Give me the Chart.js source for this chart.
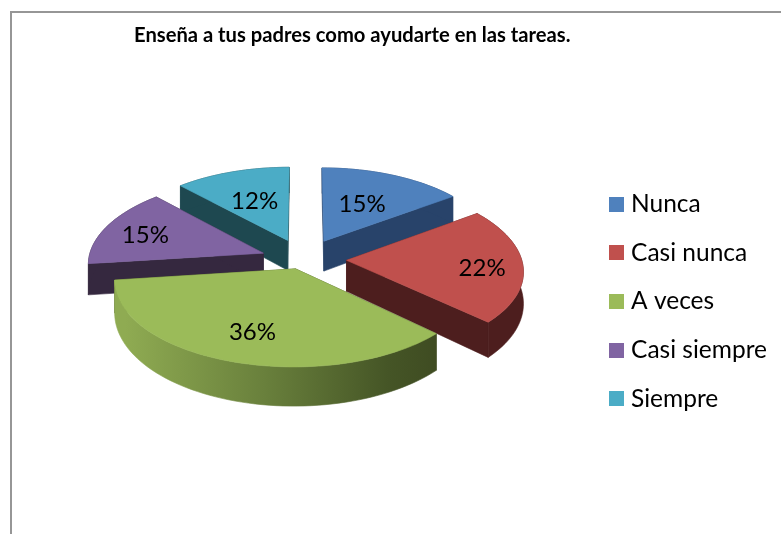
<!DOCTYPE html>
<html><head><meta charset="utf-8">
<style>
html,body{margin:0;padding:0;background:#fff;overflow:hidden;width:781px;height:534px}
#frame{position:absolute;left:10px;top:11px;width:800px;height:600px;border-left:2px solid #969696;border-top:2px solid #969696;box-sizing:border-box}
canvas{display:block}
</style>
<script src="https://cdn.jsdelivr.net/npm/chart.js@4/dist/chart.umd.min.js"></script>
</head><body>
<div id="frame"><canvas id="c" width="765" height="577"></canvas></div>
<script>
const categories = ['Nunca','Casi nunca','A veces','Casi siempre','Siempre'];
const percentages = [15,22,36,15,12];
const chartTitle = 'Enseña a tus padres como ayudarte en las tareas.';
const topColors = ['#4f81bd','#c0504d','#9bbb59','#8064a2','#4bacc6'];
const wallColors = ['#28436a','#4d1e1e','#3f4c22','#35283f','#1e4850'];
const labelFont = 'Lato, Carlito, sans-serif';

const view = {cx:293, cy:245, rx:175, ry:84, kx:0.11, ky:0.1, kd:0.17, depth:31, offset:42.5,
  labelR:[0.53,0.77,0.7,0.75,0.57], labelDy:[-1,4,1,3,1],
  shiftX:[0,-1,4,-2,-2], shiftY:[1,1,-9,2,1]};

function project(pu,pv,dz,sx0,sy0){
  const sx=1/(1-view.kx*pv), sy=1/(1-view.ky*pv), sd=1/(1-view.kd*pv);
  return [view.cx+sx0+view.rx*pu*sx, view.cy+sy0+view.ry*pv*sy+(dz?view.depth*sd:0)];
}
const pie3d = {
  id:'pie3d',
  beforeDatasetDraw(chart,args){
    const ctx=chart.ctx, arcs=chart.getDatasetMeta(args.index).data;
    const items=arcs.map((arc,i)=>{
      const mid=(arc.startAngle+arc.endAngle)/2, d=arc.options.offset/view.rx;
      return {i,arc,ou:d*Math.cos(mid),ov:d*Math.sin(mid),mid};
    });
    const pt=(it,r,a,dz)=>project(it.ou+r*Math.cos(a),it.ov+r*Math.sin(a),dz,view.shiftX[it.i],view.shiftY[it.i]);
    const poly=(pts,fill)=>{ctx.beginPath();pts.forEach((p,n)=>n?ctx.lineTo(p[0],p[1]):ctx.moveTo(p[0],p[1]));ctx.closePath();ctx.fillStyle=fill;ctx.fill();ctx.strokeStyle=fill;ctx.lineWidth=0.6;ctx.stroke();};
    items.slice().sort((a,b)=>a.ov-b.ov).forEach(it=>{
      const a0=it.arc.startAngle,a1=it.arc.endAngle,n=Math.ceil((a1-a0)/(Math.PI/90));
      const rim=[];for(let j=0;j<=n;j++)rim.push(a0+(a1-a0)*j/n);
      let wall=wallColors[it.i];
      let rimFill=wall;
      if(it.i===2){
        const g=ctx.createLinearGradient(view.cx-180,0,view.cx+130,0);
        g.addColorStop(0,'#8fab52');g.addColorStop(0.45,'#69803c');g.addColorStop(0.85,'#455526');g.addColorStop(1,'#3f4c22');
        rimFill=g;
      }
      poly([pt(it,0,0,false),pt(it,0,0,true),pt(it,1,a0,true),pt(it,1,a0,false)],wall);
      poly([pt(it,0,0,false),pt(it,0,0,true),pt(it,1,a1,true),pt(it,1,a1,false)],wall);
      poly(rim.map(a=>pt(it,1,a,false)).concat(rim.slice().reverse().map(a=>pt(it,1,a,true))),rimFill);
      poly([pt(it,0,0,false)].concat(rim.map(a=>pt(it,1,a,false))),it.arc.options.backgroundColor);
    });
    ctx.fillStyle='#000';ctx.font='24px '+labelFont;ctx.textAlign='center';ctx.textBaseline='middle';
    items.forEach(it=>{
      const p=pt(it,view.labelR[it.i],it.mid,false);
      ctx.fillText(percentages[it.i]+'%',p[0],p[1]+view.labelDy[it.i]);
    });
    return false;
  }
};
function swatch(color){
  const s=document.createElement('canvas');s.width=15;s.height=15;
  const g=s.getContext('2d');g.fillStyle=color;g.fillRect(0,0,15,15);return s;
}
new Chart(document.getElementById('c'),{
  type:'pie',
  data:{labels:categories,datasets:[{data:percentages,backgroundColor:topColors,borderWidth:0,offset:view.offset}]},
  plugins:[pie3d],
  options:{
    responsive:false,animation:false,rotation:0,
    layout:{padding:{left:122,top:0,right:0,bottom:0}},
    plugins:{
      title:{display:true,text:chartTitle,align:'start',color:'#000',font:{family:labelFont,size:20.2,weight:'bold'},padding:{top:10,bottom:10}},
      tooltip:{enabled:false},
      legend:{position:'right',align:'center',
        labels:{usePointStyle:true,pointStyleWidth:5,padding:24.2,color:'#000',font:{family:labelFont,size:24.5},
          generateLabels(chart){return categories.map((t,i)=>({text:t,index:i,fillStyle:topColors[i],strokeStyle:topColors[i],lineWidth:0,pointStyle:swatch(topColors[i]),hidden:false}));}
        }}
    }
  }
});
</script>
</body></html>
